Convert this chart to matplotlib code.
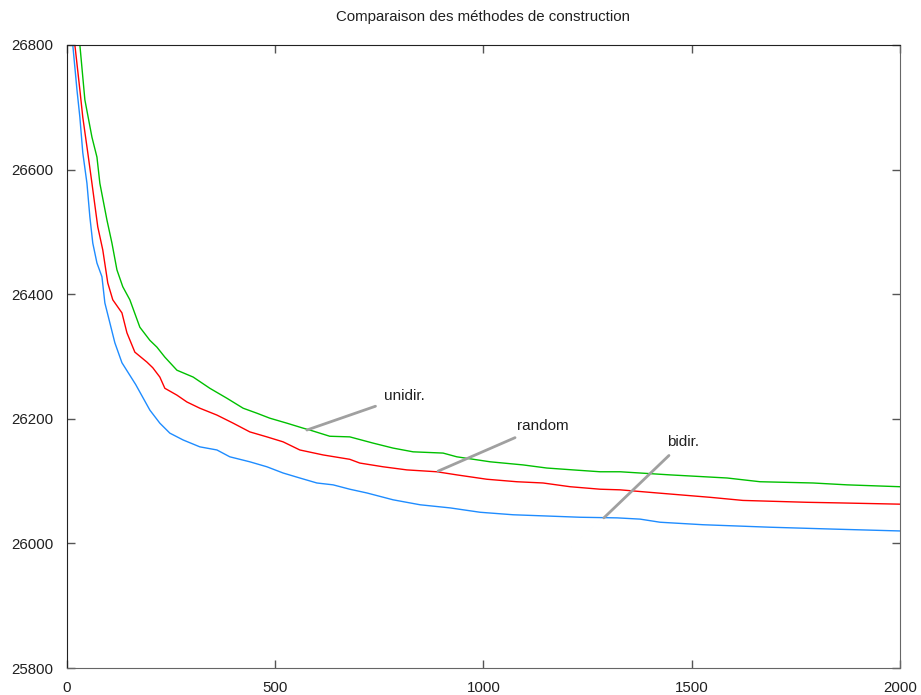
import matplotlib
matplotlib.use('Agg')
import matplotlib.pyplot as plt

plt.rcParams['font.family'] = ['Liberation Sans', 'DejaVu Sans']

# Curves (x = iteration, y = cost)
unidir_x = [31, 43, 60, 72, 79, 96, 108, 120, 134, 151, 175, 199, 216, 235, 264, 303,
            343, 384, 423, 456, 487, 528, 567, 583, 631, 679, 735, 783, 831, 903, 936,
            1016, 1095, 1152, 1215, 1280, 1328, 1448, 1585, 1664, 1791, 1873, 2000]
unidir_y = [26800, 26712, 26652, 26620, 26578, 26519, 26482, 26439, 26412, 26391, 26347,
            26326, 26315, 26299, 26278, 26267, 26249, 26233, 26217, 26209, 26201, 26193,
            26185, 26182, 26172, 26171, 26161, 26153, 26147, 26145, 26139, 26131, 26126,
            26121, 26118, 26115, 26115, 26110, 26105, 26099, 26097, 26094, 26091]

random_x = [19, 31, 38, 50, 60, 74, 86, 98, 110, 132, 144, 163, 192, 206, 223, 235, 264,
            288, 319, 360, 399, 439, 480, 519, 559, 615, 679, 703, 759, 816, 888, 936,
            1008, 1080, 1143, 1208, 1280, 1328, 1417, 1544, 1623, 1777, 1856, 2000]
random_y = [26800, 26728, 26684, 26627, 26578, 26508, 26471, 26418, 26391, 26370, 26338,
            26307, 26291, 26282, 26267, 26249, 26238, 26227, 26217, 26206, 26193, 26179,
            26171, 26163, 26150, 26142, 26135, 26129, 26123, 26118, 26115, 26110, 26103,
            26099, 26097, 26091, 26087, 26086, 26081, 26074, 26069, 26066, 26065, 26063]

bidir_x = [14, 24, 31, 38, 48, 55, 62, 72, 84, 91, 103, 115, 132, 165, 199, 223, 247,
           279, 319, 360, 391, 439, 480, 519, 559, 600, 639, 679, 720, 783, 848, 920,
           992, 1071, 1152, 1232, 1321, 1376, 1424, 1527, 1688, 1839, 2000]
bidir_y = [26800, 26728, 26684, 26627, 26578, 26524, 26482, 26450, 26428, 26386, 26354,
           26322, 26290, 26255, 26214, 26193, 26177, 26166, 26155, 26150, 26139, 26131,
           26123, 26113, 26105, 26097, 26094, 26087, 26081, 26070, 26062, 26057, 26050,
           26046, 26044, 26042, 26041, 26039, 26034, 26030, 26026, 26023, 26020]

labels = ['unidir.', 'random', 'bidir.']
label_points = [(576, 26182), (891, 26116), (1289, 26041)]
label_text = [(760, 26236), (1080, 26189), (1441, 26163)]

fig = plt.figure(figsize=(9.21, 6.95), dpi=100)
ax = fig.add_axes([0.0727, 0.0388, 0.9045, 0.8965])

ax.plot(unidir_x, unidir_y, color='#00c000', lw=1.0)
ax.plot(random_x, random_y, color='#ff0000', lw=1.0)
ax.plot(bidir_x, bidir_y, color='#1e8cff', lw=1.0)

for lab, (px, py), (tx, ty) in zip(labels, label_points, label_text):
    ax.annotate(lab, xy=(px, py), xytext=(tx, ty), fontsize=11, color='#202020',
                ha='left', va='center',
                arrowprops=dict(arrowstyle='-', color='#a0a0a0', lw=2.0,
                                shrinkA=4, shrinkB=0))

ax.set_xlim(0, 2000)
ax.set_ylim(25800, 26800)
ax.set_xticks([0, 500, 1000, 1500, 2000])
ax.set_yticks([25800, 26000, 26200, 26400, 26600, 26800])
ax.tick_params(direction='in', length=6, width=1, color='#555555',
               top=True, right=True, labelsize=10.8, labelcolor='#202020')
ax.tick_params(axis='y', pad=10)
ax.tick_params(axis='x', pad=9)
for side in ['left', 'top']:
    ax.spines[side].set_color('#222222')
for side in ['bottom', 'right']:
    ax.spines[side].set_color('#666666')

fig.suptitle('Comparaison des méthodes de construction', x=0.524, y=0.986,
             fontsize=10.8, color='#202020')

fig.savefig('out.png', dpi=100)
